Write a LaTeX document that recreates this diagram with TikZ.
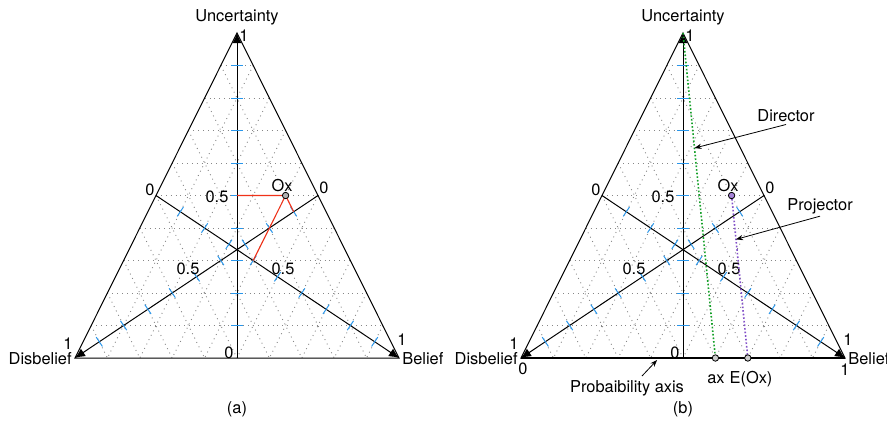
\documentclass[tikz,border=0pt]{standalone}
\usepackage{fontspec}
\setmainfont{TeX Gyre Heros}
\usetikzlibrary{arrows.meta, calc}
\definecolor{tickblue}{RGB}{40, 150, 235}
\definecolor{gridgray}{RGB}{135, 135, 135}
\definecolor{optred}{RGB}{240, 50, 25}
\definecolor{dirgreen}{RGB}{20, 160, 40}
\definecolor{projpurple}{RGB}{130, 80, 200}

\tikzset{
  side/.style={line width=0.5pt},
  gridline/.style={gridgray, dotted, line width=0.45pt},
  axisline/.style={line width=0.5pt, ->},
  tickmark/.style={tickblue, line width=0.5pt},
  optline/.style={optred, line width=0.55pt},
  dot/.style={circle, draw, line width=0.4pt, inner sep=0pt, minimum size=3.2pt},
  note/.style={-{Stealth[length=3.5pt, width=2.6pt]}, line width=0.4pt},
  lbl/.style={inner sep=1pt},
}

% one opinion triangle, #1 = prefix of its names
\newcommand{\opintri}[1]{%
  % vertices
  \coordinate (#1U) at (0, 325);
  \coordinate (#1D) at (-162, 0);
  \coordinate (#1B) at (162, 0);
  % grid parallel to the sides
  \foreach \j in {1,...,9} {
    \draw[gridline] ($(#1U)!\j/10!(#1D)$) -- ($(#1U)!\j/10!(#1B)$);
    \draw[gridline] ($(#1D)!\j/10!(#1U)$) -- ($(#1D)!\j/10!(#1B)$);
    \draw[gridline] ($(#1B)!\j/10!(#1U)$) -- ($(#1B)!\j/10!(#1D)$);
  }
  % sides
  \draw[side] (#1D) -- (#1U) -- (#1B) -- cycle;
  % axes, from the middle of the opposite side to the vertex
  \coordinate (#1mU) at ($(#1D)!0.5!(#1B)$);
  \coordinate (#1mD) at ($(#1U)!0.5!(#1B)$);
  \coordinate (#1mB) at ($(#1U)!0.5!(#1D)$);
  \draw[axisline] (#1mU) -- (#1U);
  \draw[axisline] (#1mD) -- (#1D);
  \draw[axisline] (#1mB) -- (#1B);
  % ticks on the axes
  \foreach \m/\v in {#1mU/#1U, #1mD/#1D, #1mB/#1B} {
    \foreach \i in {1,...,9} {
      \coordinate (#1t) at ($(\m)!\i/10!(\v)$);
      \draw[tickmark] ($(#1t)!2.8pt!90:(\v)$) -- ($(#1t)!2.8pt!-90:(\v)$);
    }
  }
  % labels
  \node[lbl] (#1lu) at (0, 341) {Uncertainty};
  \node[lbl] (#1lu1) at (7, 322) {1};
  \node[lbl, anchor=east] (#1ld) at ($(#1D)+(-1, -1)$) {Disbelief};
  \node[lbl] (#1ld1) at (-169, 14) {1};
  \node[lbl, anchor=west] (#1lb) at ($(#1B)+(1, -1)$) {Belief};
  \node[lbl] (#1lb1) at (165, 18) {1};
  \node[lbl] (#1l0l) at (-87, 168) {0};
  \node[lbl] (#1l0r) at (87, 170) {0};
  \node[lbl] (#1l0b) at (-8, 5) {0};
  \node[lbl] (#1h1) at (-20, 161) {0.5};
  \node[lbl] (#1h2) at (-49, 89) {0.5};
  \node[lbl] (#1h3) at (46, 89) {0.5};
  % opinion point
  \coordinate (#1Ox) at (48.6, 162.5);
  \node[lbl] (#1lox) at (45, 172) {Ox};
}

\begin{document}
\begin{tikzpicture}[x=0.5pt, y=0.5pt, font=\fontsize{8.2}{10}\selectfont,
  >={Latex[length=5pt, width=4.5pt]}]
  \useasboundingbox (-237, -67) rectangle (650, 358);

  % (a) opinion triangle
  \opintri{a}
  \coordinate (aPu) at (0, 162.5);
  \coordinate (aPb) at ($(amB)!0.4!(aB)$);
  \coordinate (aPd) at ($(amD)!0.1!(aD)$);
  \draw[optline] (aPu) -- (aOx) -- (aPb);
  \draw[optline] (aOx) -- (aPd);
  \node[dot, fill=gray!60] (aox) at (aOx) {};
  \node (acap) at (0, -51) {(a)};

  % (b) probability axis, director and projector
  \begin{scope}[shift={(446, 0)}]
    \opintri{b}
    \draw[line width=1pt] (bD) -- (bB);
    \coordinate (bax) at ($(bD)!0.6!(bB)$);
    \coordinate (bE) at ($(bD)!0.7!(bB)$);
    \draw[dirgreen, densely dotted, line width=0.8pt] (bU) -- (bax);
    \draw[projpurple, densely dotted, line width=0.8pt] (bOx) -- (bE);
    \node[dot, fill=projpurple!70] (box) at (bOx) {};
    \node[dot, fill=gray!40] (baxp) at (bax) {};
    \node[dot, fill=gray!40] (bEp) at (bE) {};
    \node[lbl] (bl0) at (-160, -11) {0};
    \node[lbl] (bl1) at (162, -12) {1};
    \node[lbl] (blax) at (33, -21) {ax};
    \node[lbl] (blE) at (68, -21) {E(Ox)};
    % notes
    \node[lbl] (bdir) at (103, 242) {Director};
    \draw[note] (bdir.south) -- ($(bU)!0.354!(bax)$);
    \node[lbl] (bproj) at (137, 152) {Projector};
    \draw[note] (bproj.south) -- ($(bOx)!0.27!(bE)$);
    \node[lbl] (bpa) at (-56, -30) {Probaibility axis};
    \coordinate (bpat) at (-41, -18);
    \draw[note] (bpat) -- ($(bD)!0.42!(bB)+(0, -2)$);
    \node (bcap) at (0, -51) {(b)};
  \end{scope}
\end{tikzpicture}
\end{document}
